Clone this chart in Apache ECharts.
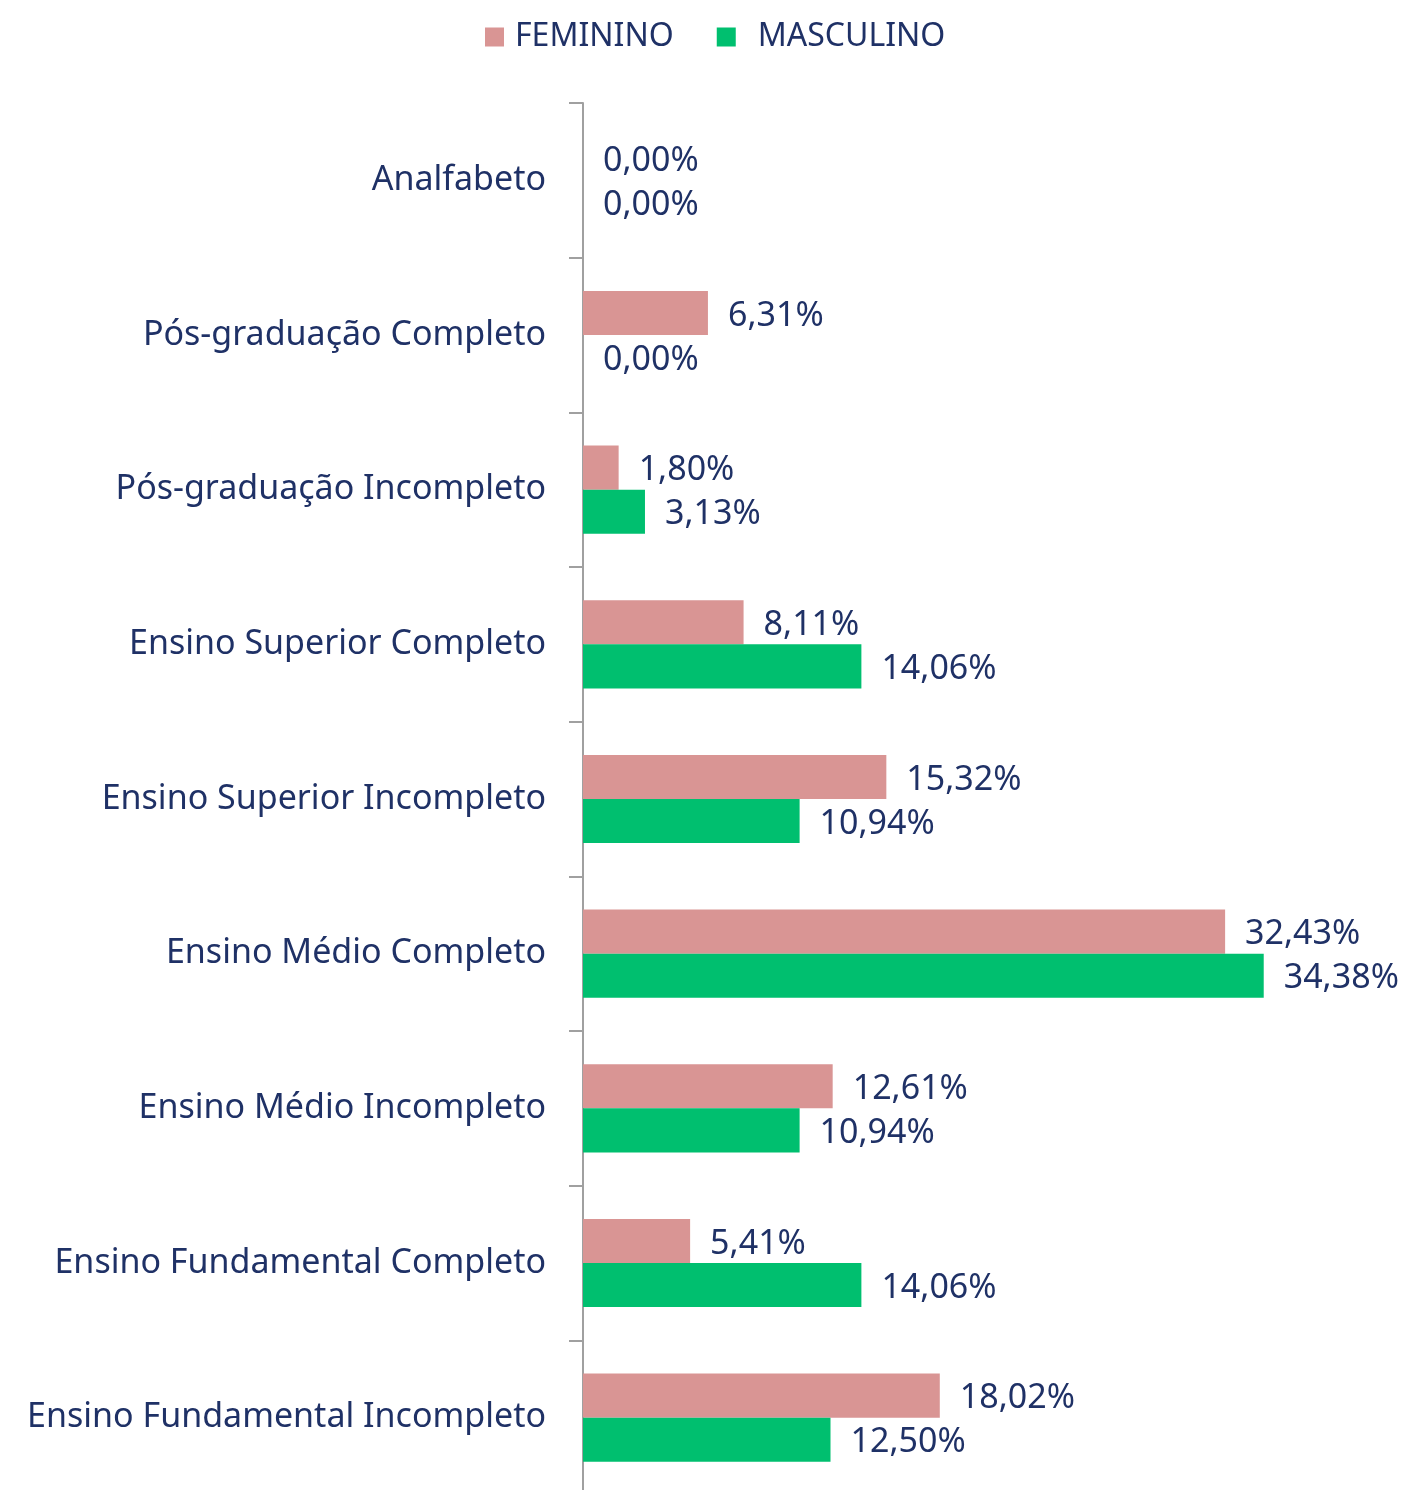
<!DOCTYPE html>
<html>
<head>
<meta charset="utf-8">
<script src="https://cdn.jsdelivr.net/npm/echarts@6/dist/echarts.min.js"></script>
<style>
  html, body { margin: 0; padding: 0; background: #fff; }
  #chart { width: 1406px; height: 1490px; }
</style>
</head>
<body>
<div id="chart"></div>
<script>
// categorias (de cima para baixo)
const categories = [
  "Analfabeto",
  "Pós-graduação Completo",
  "Pós-graduação Incompleto",
  "Ensino Superior Completo",
  "Ensino Superior Incompleto",
  "Ensino Médio Completo",
  "Ensino Médio Incompleto",
  "Ensino Fundamental Completo",
  "Ensino Fundamental Incompleto"
];
const feminino = [0.00, 6.31, 1.80, 8.11, 15.32, 32.43, 12.61, 5.41, 18.02];
const masculino = [0.00, 0.00, 3.13, 14.06, 10.94, 34.38, 10.94, 14.06, 12.50];

const textColor = "#1f3166";
const fontFamily = "Noto Sans";

const chart = echarts.init(document.getElementById("chart"));

const labelOpt = {
  show: true,
  position: "right",
  distance: 20,
  offset: [0, 3],
  color: textColor,
  fontSize: 34,
  fontFamily: fontFamily,
  formatter: (p) => p.value.toFixed(2).replace(".", ",") + "%"
};

chart.setOption({
  animation: false,
  legend: {
    top: 16,
    left: 480,
    itemWidth: 19,
    itemHeight: 19,
    itemGap: 43,
    icon: "rect",
    textStyle: { color: textColor, fontSize: 32, fontFamily: fontFamily, padding: [0, 0, 0, 6] },
    data: [
      { name: "FEMININO" },
      { name: "MASCULINO", textStyle: { padding: [0, 0, 0, 17] } }
    ]
  },
  grid: {
    left: 583,
    top: 103,
    width: 792,
    height: 1392,
    outerBoundsMode: "none"
  },
  xAxis: {
    type: "value",
    min: 0,
    max: 40,
    show: false
  },
  yAxis: {
    type: "category",
    inverse: true,
    data: categories,
    axisLine: { show: true, lineStyle: { color: "#a0a0a0", width: 2 } },
    axisTick: { show: true, length: 14, lineStyle: { color: "#a0a0a0", width: 2 } },
    axisLabel: {
      color: textColor,
      fontSize: 34,
      fontFamily: fontFamily,
      margin: 37
    }
  },
  series: [
    {
      name: "FEMININO",
      type: "bar",
      data: feminino,
      barGap: "0%",
      barCategoryGap: "43%",
      itemStyle: { color: "#d99594" },
      label: labelOpt
    },
    {
      name: "MASCULINO",
      type: "bar",
      data: masculino,
      itemStyle: { color: "#00bf6f" },
      label: labelOpt
    }
  ]
});
</script>
</body>
</html>
